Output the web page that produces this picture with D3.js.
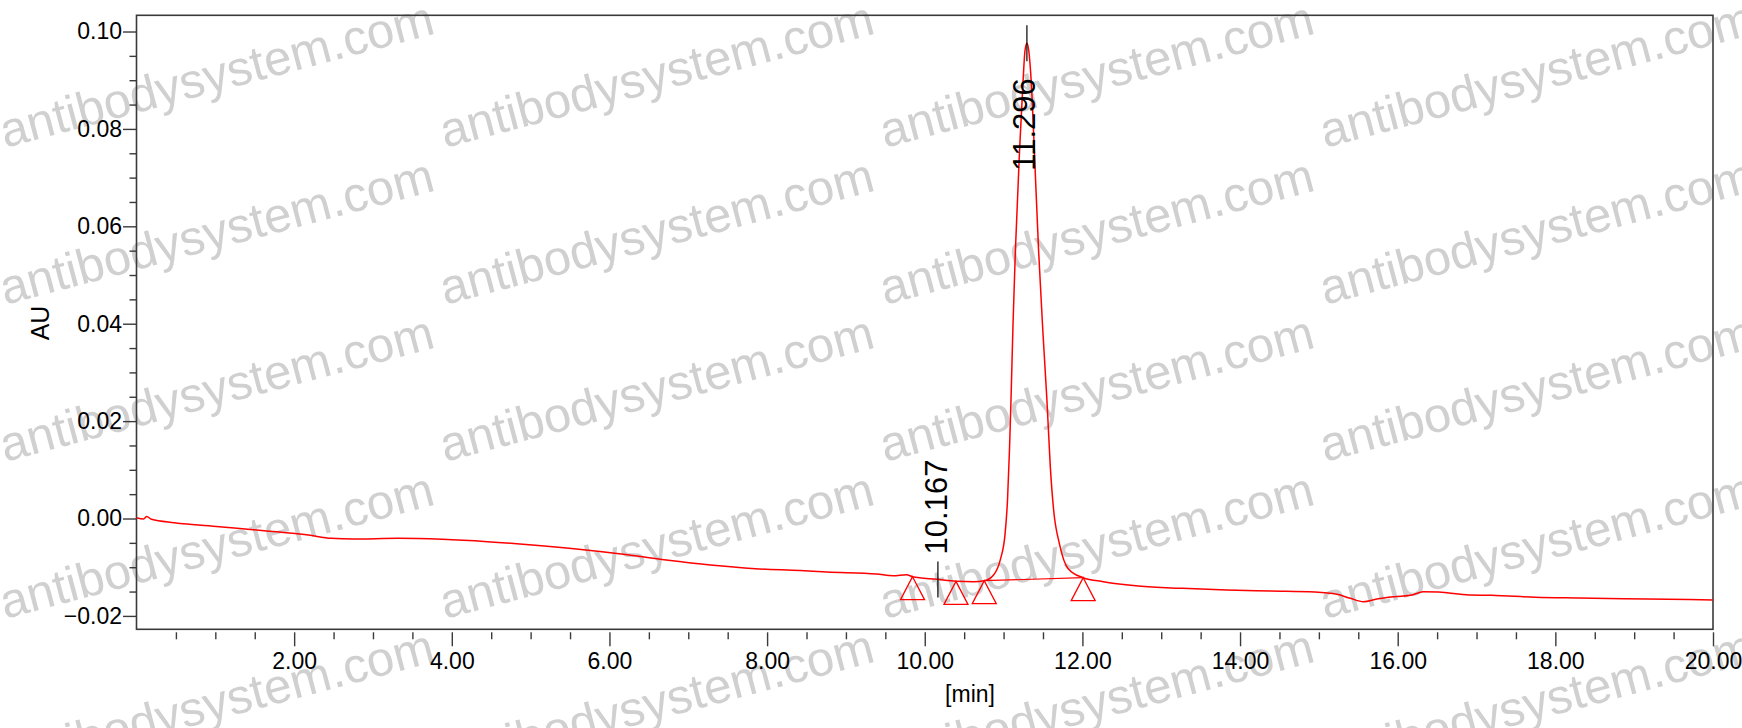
<!DOCTYPE html>
<html>
<head>
<meta charset="utf-8">
<script src="https://cdn.jsdelivr.net/npm/d3@7"></script>
<style>
  html, body { margin: 0; padding: 0; background: #fff; }
  svg { display: block; }
  text { font-family: "Liberation Sans", Arial, sans-serif; }
</style>
</head>
<body>
<svg id="chart" width="1742" height="728"></svg>
<script>
// ---- data ----
const times = [0, 0.09, 0.13, 0.19, 0.48, 1.05, 1.62, 2.18, 2.47, 2.75, 3.32, 3.88, 4.45, 5.02, 5.58, 6.15, 6.72, 7.28, 7.85, 8.42, 8.76, 9.39, 9.60, 9.77, 9.845, 10.155, 10.40, 10.62, 10.755, 10.873, 10.958, 11.02, 11.05, 11.075, 11.094, 11.12, 11.15, 11.203, 11.246, 11.27, 11.296, 11.32, 11.352, 11.39, 11.444, 11.50, 11.55, 11.593, 11.635, 11.71, 11.82, 12.01, 12.265, 12.71, 13.27, 13.83, 14.39, 14.95, 15.23, 15.40, 15.567, 15.735, 15.96, 16.18, 16.32, 16.52, 16.91, 17.19, 17.75, 18.31, 18.87, 19.43, 20.0];
const absorbance = [0.00016, -0.0001, 0.0004, -0.00016, -0.00086, -0.00168, -0.0025, -0.00339, -0.00407, -0.00421, -0.00407, -0.00428, -0.00476, -0.00544, -0.00626, -0.00729, -0.00852, -0.00955, -0.0103, -0.0107, -0.0110, -0.0114, -0.01174, -0.01153, -0.01195, -0.01249, -0.0129, -0.01297, -0.01277, -0.0116, -0.0085, -0.0030, 0.0038, 0.0141, 0.0243, 0.0400, 0.0551, 0.0757, 0.0894, 0.0958, 0.0976, 0.0960, 0.0894, 0.0757, 0.0551, 0.0380, 0.0243, 0.0106, 0.00175, -0.0053, -0.0103, -0.01215, -0.01297, -0.01386, -0.01434, -0.01468, -0.01489, -0.0151, -0.01557, -0.01639, -0.01708, -0.01653, -0.01605, -0.01571, -0.01503, -0.0151, -0.01571, -0.01577, -0.01618, -0.01632, -0.01646, -0.01659, -0.01673];

// integration markers (triangles) on the trace
const markerTimes = [9.845, 10.396, 10.755, 12.01];
const markerValues = [-0.01195, -0.0129, -0.01277, -0.01215];

// integration baseline under main peak
const baseTimes = [10.755, 12.01];
const baseValues = [-0.01277, -0.01215];

// labelled peaks
const peakTimes = [10.167, 11.296];
const peakValues = [-0.0125, 0.0976];
const peakLabels = ["10.167", "11.296"];

// axes ticks
const xMajorTicks = [2, 4, 6, 8, 10, 12, 14, 16, 18, 20];
const xMinorTicks = d3.range(0.5, 20, 0.5).filter(v => Math.abs(v / 2 - Math.round(v / 2)) > 1e-6);
const yMajorTicks = [-0.02, 0.00, 0.02, 0.04, 0.06, 0.08, 0.10];
const yMinorTicks = [-0.015, -0.01, -0.005, 0.005, 0.01, 0.015, 0.025, 0.03, 0.035, 0.045, 0.05, 0.055, 0.065, 0.07, 0.075, 0.085, 0.09, 0.095];

const watermarkText = "antibodysystem.com";
const watermarkCols = [0, 1, 2, 3];
const watermarkRows = [0, 1, 2, 3, 4];

// ---- layout ----
const L = 136.5, R = 1713, T = 15.3, B = 629.3;
const svg = d3.select("#chart");

const x = d3.scaleLinear().domain([0, 20]).range([L, R]);
const y = d3.scaleLinear().domain([-0.02275, 0.10333]).range([B, T]);

// watermark (behind)
const wm = svg.append("g");
watermarkRows.forEach(r => {
  watermarkCols.forEach(c => {
    const sx = 5 + c * 440, sy = 148 + r * 157;
    wm.append("text")
      .attr("transform", `translate(${sx},${sy}) rotate(-14.9)`)
      .attr("font-size", 49)
      .attr("fill", "#d0d0d0")
      .text(watermarkText);
  });
});

// frame
svg.append("rect")
  .attr("x", L).attr("y", T).attr("width", R - L).attr("height", B - T)
  .attr("fill", "none").attr("stroke", "#3a3a3a").attr("stroke-width", 1.6);

// y axis
const yAxisG = svg.append("g").attr("transform", `translate(${L},0)`)
  .call(d3.axisLeft(y).tickValues(yMajorTicks).tickFormat(d3.format(".2f")).tickSize(13.5).tickPadding(1));
yAxisG.select(".domain").remove();
yAxisG.selectAll(".tick line").attr("stroke", "#3a3a3a").attr("stroke-width", 1.4);
yAxisG.selectAll("text").attr("font-size", 23).attr("fill", "#000").attr("font-family", "Liberation Sans, Arial, sans-serif");

const yMinorG = svg.append("g").attr("transform", `translate(${L},0)`)
  .call(d3.axisLeft(y).tickValues(yMinorTicks).tickFormat("").tickSize(7));
yMinorG.select(".domain").remove();
yMinorG.selectAll(".tick line").attr("stroke", "#3a3a3a").attr("stroke-width", 1.4);

// x axis (ticks start a little below the frame)
const xAxisG = svg.append("g").attr("transform", `translate(0,${B + 3})`)
  .call(d3.axisBottom(x).tickValues(xMajorTicks).tickFormat(d3.format(".2f")).tickSize(14).tickPadding(6.4));
xAxisG.select(".domain").remove();
xAxisG.selectAll(".tick line").attr("stroke", "#3a3a3a").attr("stroke-width", 1.4);
xAxisG.selectAll("text").attr("font-size", 23).attr("fill", "#000").attr("font-family", "Liberation Sans, Arial, sans-serif");

const xMinorG = svg.append("g").attr("transform", `translate(0,${B + 3})`)
  .call(d3.axisBottom(x).tickValues(xMinorTicks).tickFormat("").tickSize(7));
xMinorG.select(".domain").remove();
xMinorG.selectAll(".tick line").attr("stroke", "#3a3a3a").attr("stroke-width", 1.4);

// axis titles
svg.append("text")
  .attr("transform", `translate(40,323) rotate(-90)`)
  .attr("text-anchor", "middle").attr("dominant-baseline", "central")
  .attr("font-size", 25).attr("fill", "#000").text("AU");
svg.append("text")
  .attr("x", 970).attr("y", 702).attr("text-anchor", "middle")
  .attr("font-family", "Liberation Serif, 'Times New Roman', serif")
  .attr("font-size", 23).attr("fill", "#000").text("[min]");

// trace
const data = times.map((t, i) => ({ t, v: absorbance[i] }));
const line = d3.line().x(d => x(d.t)).y(d => y(d.v)).curve(d3.curveMonotoneX);
svg.append("path").datum(data)
  .attr("d", line).attr("fill", "none").attr("stroke", "#ff0000").attr("stroke-width", 1.5);

// integration baseline
const baseData = baseTimes.map((t, i) => ({ t, v: baseValues[i] }));
svg.append("path").datum(baseData)
  .attr("d", d3.line().x(d => x(d.t)).y(d => y(d.v)))
  .attr("fill", "none").attr("stroke", "#ff0000").attr("stroke-width", 1.2);

// triangles
const tri = d3.symbol().type(d3.symbolTriangle).size(250);
markerTimes.forEach((t, i) => {
  const px = x(t), py = y(markerValues[i]);
  const w = 24, h = 23;
  svg.append("path")
    .attr("d", `M${px},${py} L${px + w / 2},${py + h} L${px - w / 2},${py + h} Z`)
    .attr("fill", "none").attr("stroke", "#ff0000").attr("stroke-width", 1.3);
});

// peak markers and labels
peakTimes.forEach((t, i) => {
  const px = x(t), py = y(peakValues[i]);
  svg.append("line")
    .attr("x1", px).attr("x2", px).attr("y1", py - 18).attr("y2", py + 18)
    .attr("stroke", "#000").attr("stroke-width", 1.2);
  const lbl = svg.append("text")
    .attr("font-size", 31).attr("fill", "#000").text(peakLabels[i]);
  if (i === 0) {
    lbl.attr("transform", `translate(${px + 9.5},${py - 25}) rotate(-90)`).attr("text-anchor", "start");
  } else {
    lbl.attr("transform", `translate(${px + 8.5},${py + 35}) rotate(-90)`).attr("text-anchor", "end");
  }
});
</script>
</body>
</html>
